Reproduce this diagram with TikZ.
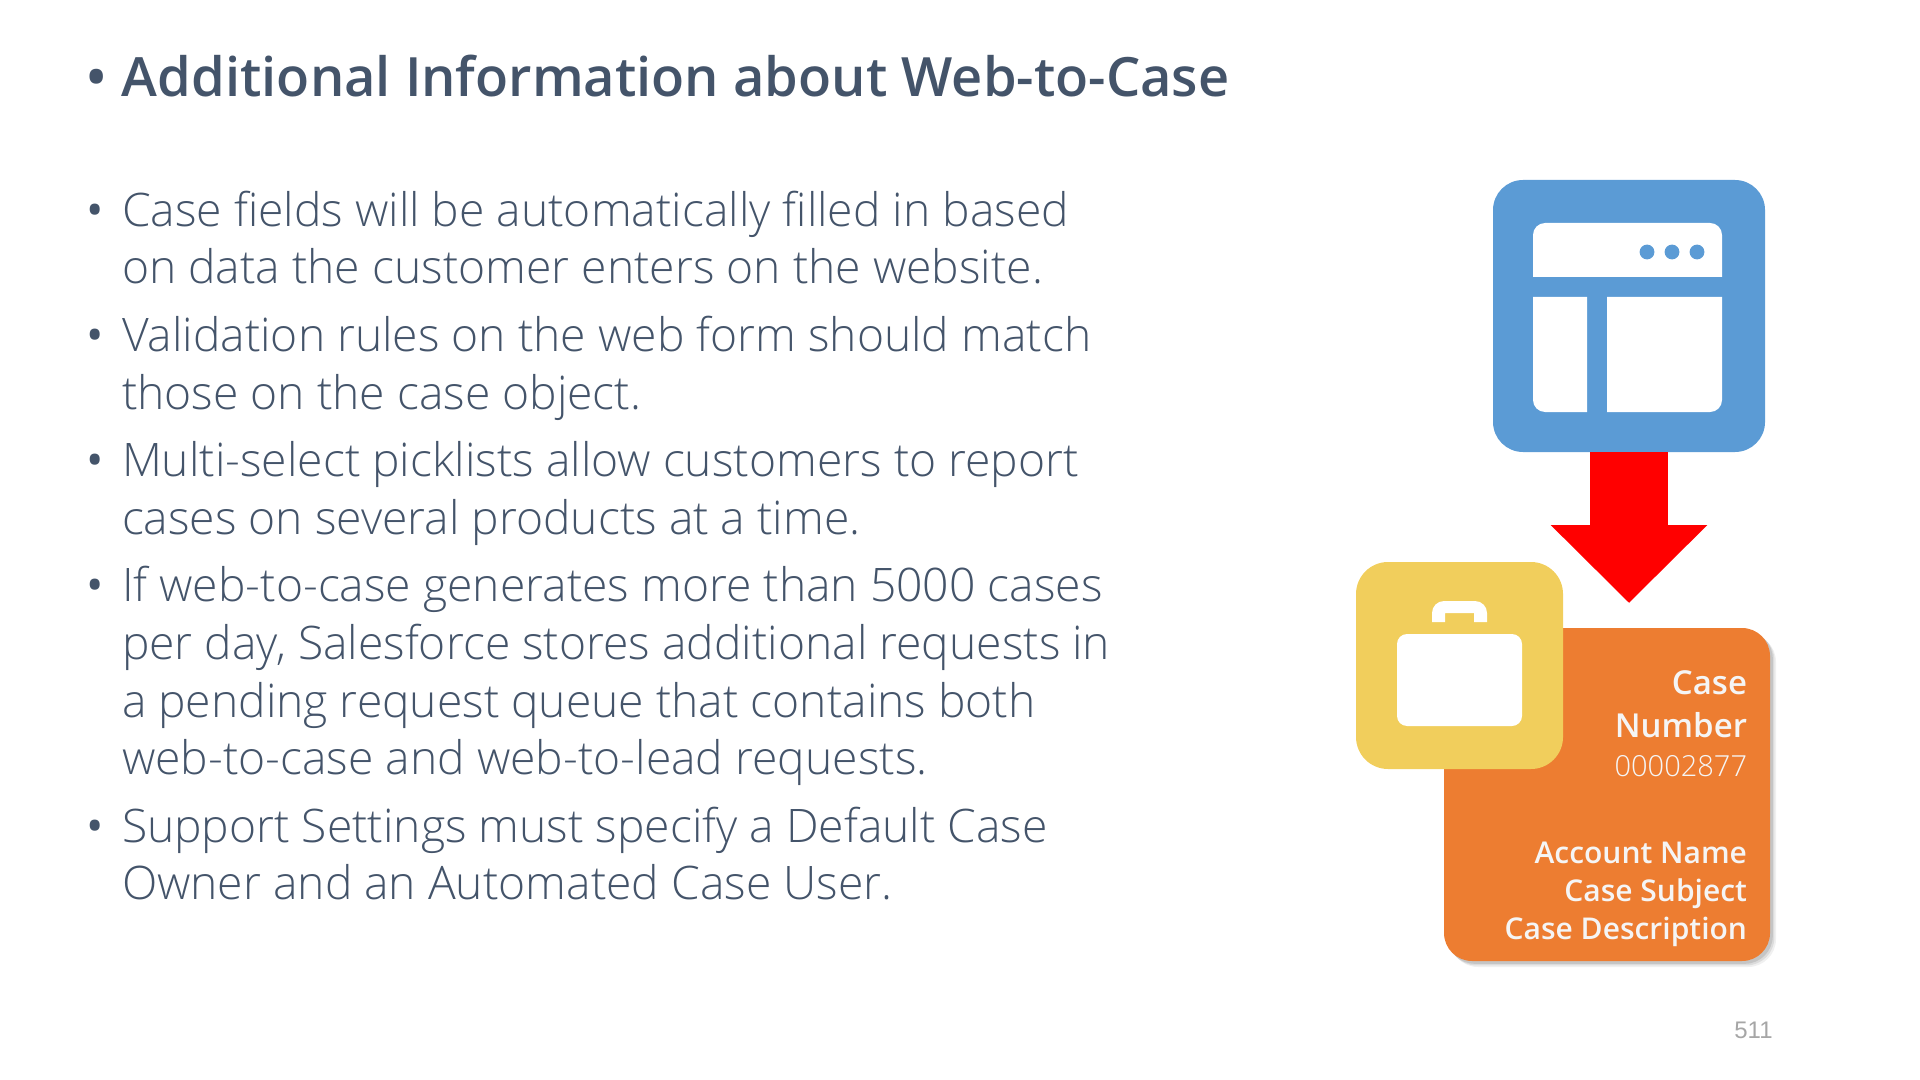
\documentclass[tikz,border=0pt]{standalone}
\usepackage{fontspec}
\usepackage{xcolor}
\setmainfont{Open Sans Light}[BoldFont=Open Sans Semibold]
\newfontfamily\cardfont{Open Sans}[BoldFont=Open Sans Semibold]
\newfontfamily\numberfont{Liberation Sans}
\newcommand{\itemdot}{{\cardfont •}}
\usetikzlibrary{arrows.meta,positioning,shadows}
\definecolor{slatetext}{HTML}{44546A}
\definecolor{webblue}{HTML}{5B9BD5}
\definecolor{caseorange}{HTML}{ED7D31}
\definecolor{bagyellow}{HTML}{F1CE5C}
\definecolor{cardwhite}{HTML}{F5F5F5}
\tikzset{
    bodyitem/.style={
      inner sep=0pt,
      outer sep=0pt,
      text=slatetext,
      font=\fontsize{23.1}{28.8}\selectfont,
    },
    titleitem/.style={
      bodyitem,
      font=\fontsize{27.1}{32}\selectfont\bfseries,
    },
    iconbox/.style={
      rectangle,
      rounded corners=15pt,
      inner sep=0pt,
      outer sep=0pt,
      minimum size=#1,
    },
    cardbox/.style={
      rectangle,
      rounded corners=14pt,
      fill=caseorange,
      inner sep=0pt,
      outer sep=0pt,
      minimum width=163pt,
      minimum height=166.5pt,
      drop shadow={shadow xshift=3pt,shadow yshift=-3pt,opacity=.12},
      drop shadow={shadow xshift=2.2pt,shadow yshift=-2.2pt,opacity=.18},
      drop shadow={shadow xshift=1.4pt,shadow yshift=-1.4pt,opacity=.25},
    },
    cardtext/.style={
      inner sep=0pt,
      outer sep=0pt,
      text=cardwhite,
    },
}

\begin{document}
\begin{tikzpicture}[x=0.5pt,y=-0.5pt]
    \useasboundingbox (0,0) rectangle (1920,1080);

    \node[titleitem, anchor=north west] (TITLE) at (86,52)
    {
      \begin{tabular}{@{}p{18pt}@{}l@{}}
        • & Additional Information about Web-to-Case
      \end{tabular}
    };

    \node[bodyitem, anchor=north west] (ITEM1) at (86,186)
    {
      \begin{tabular}{@{}p{18pt}@{}l@{}}
        \itemdot & Case fields will be automatically filled in based \\
          & on data the customer enters on the website.
      \end{tabular}
    };

    \node[bodyitem, below right=5pt and 0pt of ITEM1.south west] (ITEM2)
    {
      \begin{tabular}{@{}p{18pt}@{}l@{}}
        \itemdot & Validation rules on the web form should match \\
          & those on the case object.
      \end{tabular}
    };

    \node[bodyitem, below right=5pt and 0pt of ITEM2.south west] (ITEM3)
    {
      \begin{tabular}{@{}p{18pt}@{}l@{}}
        \itemdot & Multi-select picklists allow customers to report \\
          & cases on several products at a time.
      \end{tabular}
    };

    \node[bodyitem, below right=5pt and 0pt of ITEM3.south west] (ITEM4)
    {
      \begin{tabular}{@{}p{18pt}@{}l@{}}
        \itemdot & If web-to-case generates more than 5000 cases \\
          & per day, Salesforce stores additional requests in \\
          & a pending request queue that contains both \\
          & web-to-case and web-to-lead requests.
      \end{tabular}
    };

    \node[bodyitem, below right=5pt and 0pt of ITEM4.south west] (ITEM5)
    {
      \begin{tabular}{@{}p{18pt}@{}l@{}}
        \itemdot & Support Settings must specify a Default Case \\
          & Owner and an Automated Case User.
      \end{tabular}
    };

    % web form icon
    \node[iconbox=136pt, fill=webblue, anchor=north west] (WEB) at (1493,180) {};
    \fill[white] [rounded corners=6pt] (1533,277) [sharp corners] -- (1533,277) [rounded corners=6pt] -- (1533,223) -- (1722,223) [sharp corners] -- (1722,277) -- cycle;
    \fill[white] (1533,297) -- (1587,297) -- (1587,412) [rounded corners=6pt] -- (1533,412) [sharp corners] -- (1533,297) -- cycle;
    \fill[white] (1607,297) -- (1722,297) [rounded corners=6pt] -- (1722,412) [sharp corners] -- (1607,412) -- cycle;
    \fill[webblue] (1647,252) circle (3.7pt) (1672,252) circle (3.7pt) (1697,252) circle (3.7pt);

    \coordinate (TIP) at (1629,603);
    \draw[red, line width=39pt, -{Triangle[length=39pt,width=76pt]}] (WEB.south) -- (TIP);

    % case card
    \node[cardbox, anchor=north west] (CARD) at (1444,628) {};

    \node[cardtext, anchor=north east, font=\cardfont\fontsize{16.5}{21.2}\selectfont] (CARDTOP) at (1747,665)
    {
      \begin{tabular}{@{}r@{}}
        \bfseries Case \\
        \bfseries Number \\[-1.5pt]
        \fontsize{14.5}{20}\selectfont\rmfamily 00002877
      \end{tabular}
    };

    \node[cardtext, anchor=north east, font=\cardfont\fontsize{15}{19}\selectfont\bfseries] (CARDFIELDS) at (1747,837)
    {
      \begin{tabular}{@{}r@{}}
        Account Name \\
        Case Subject \\
        Case Description
      \end{tabular}
    };

    % briefcase icon
    \node[iconbox=103.5pt, rounded corners=16pt, fill=bagyellow, anchor=north west] (BAG) at (1356,562) {};
    \fill[white, rounded corners=5pt] (1397,634) rectangle (1522,726);
    \fill[white] (1432,622) [rounded corners=6pt] -- (1432,601) -- (1487,601) [sharp corners] -- (1487,622) -- (1474,622) -- (1474,613) -- (1445,613) -- (1445,622) -- cycle;

    \node[anchor=north east, inner sep=0pt, text=gray!70, font=\numberfont\fontsize{12}{14}\selectfont] (PAGE) at (1773,1022) {511};

\end{tikzpicture}
\end{document}
